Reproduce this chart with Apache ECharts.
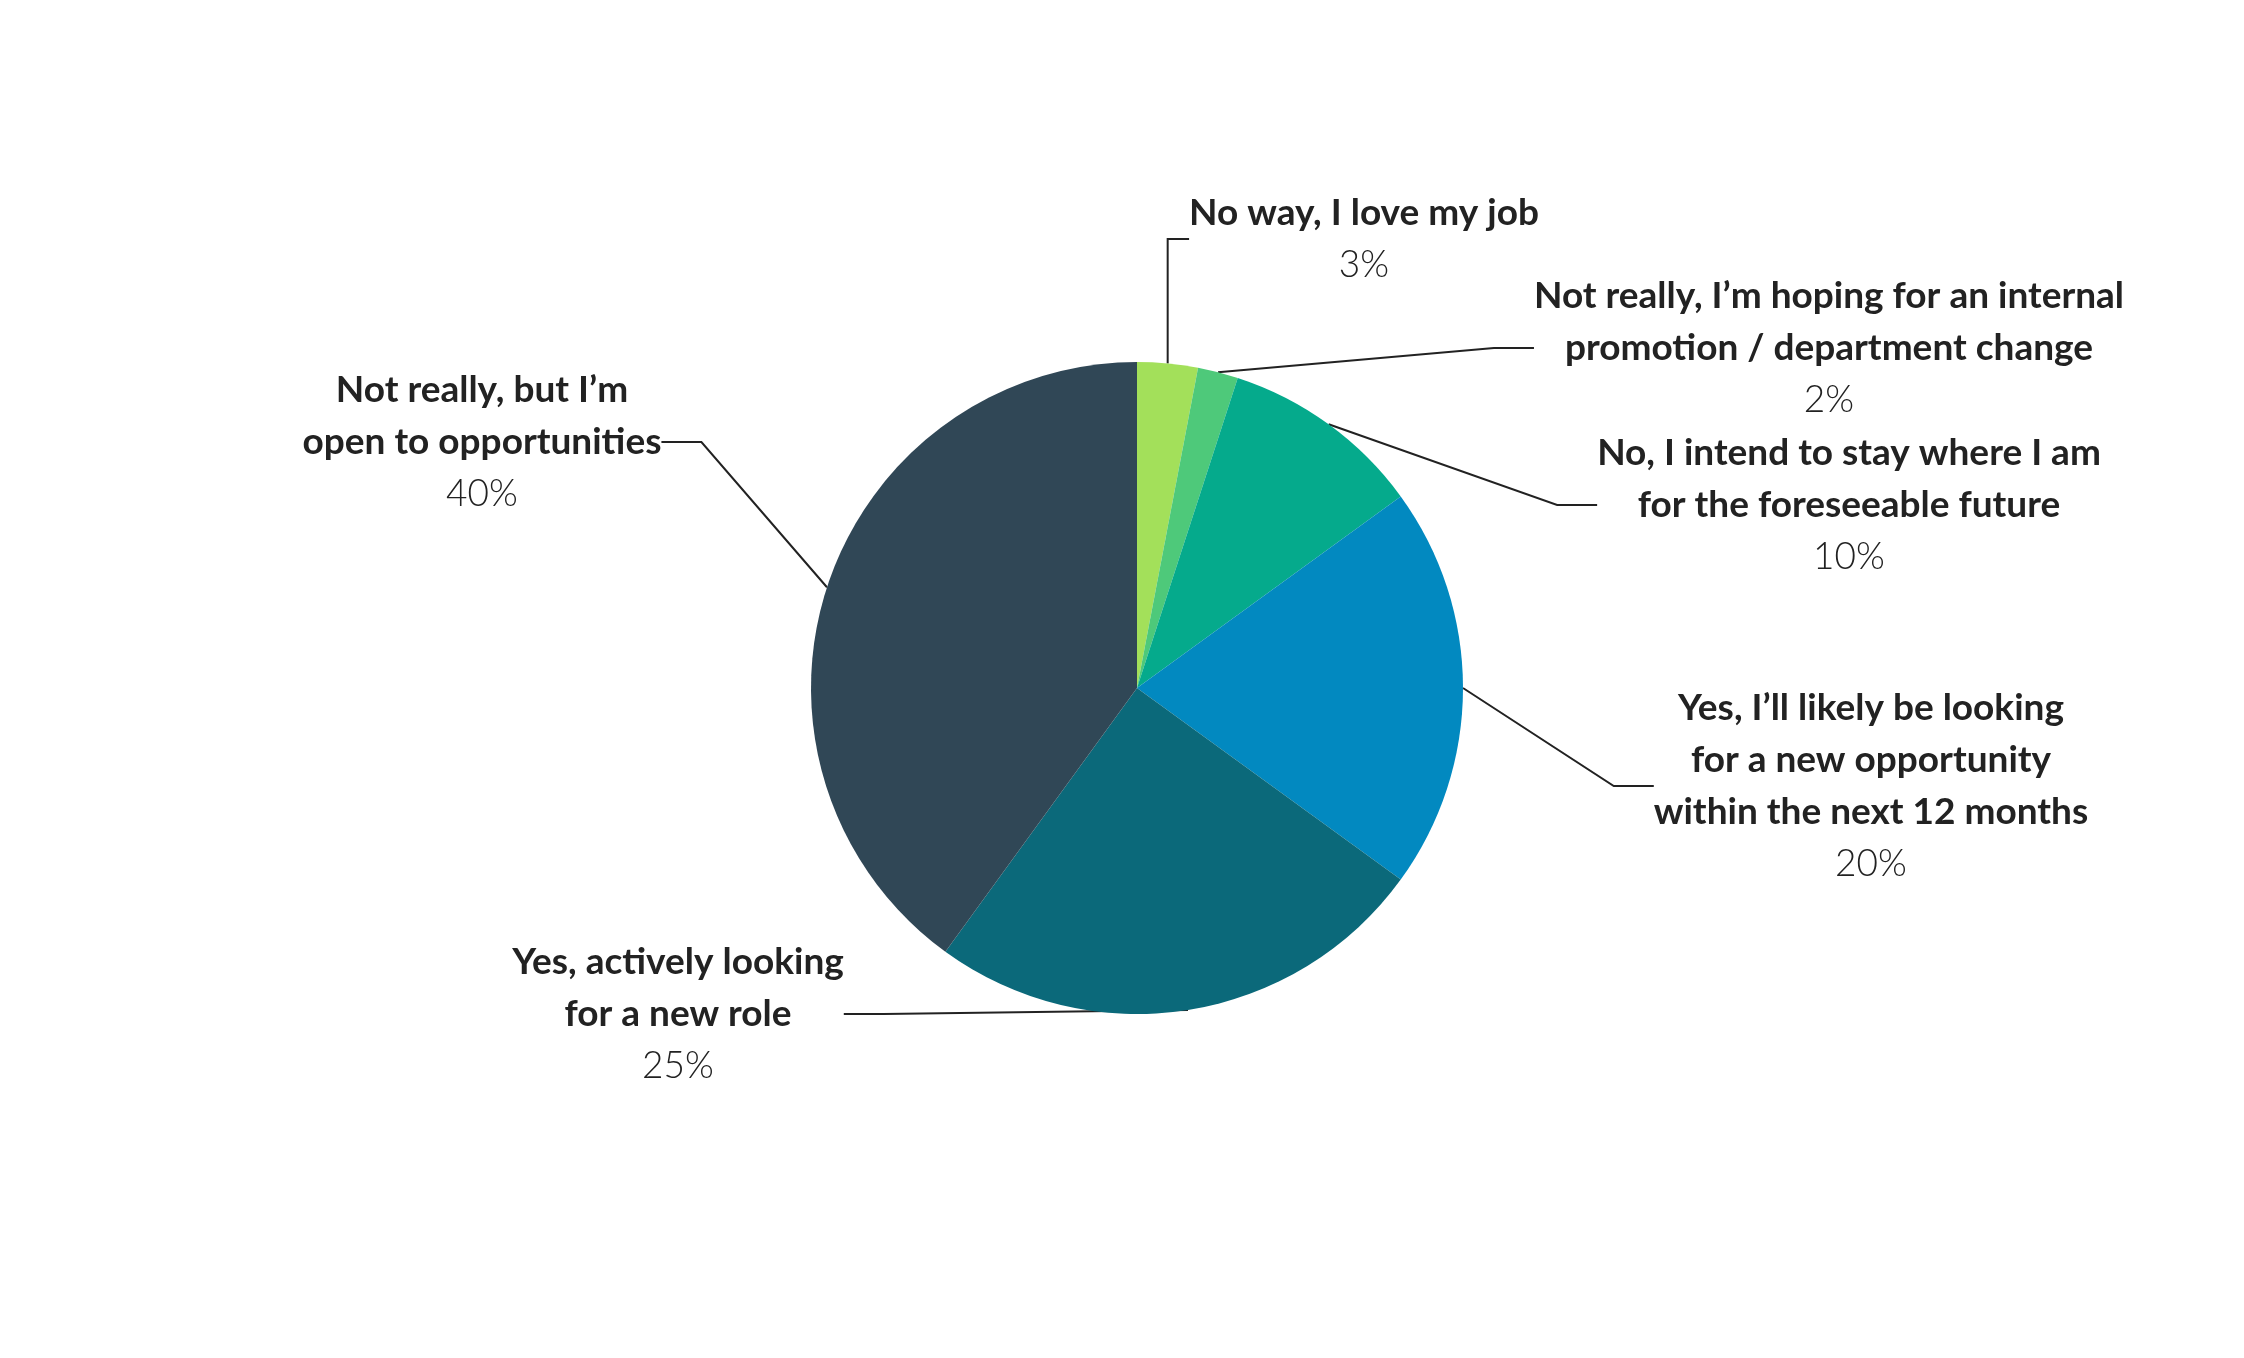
<!DOCTYPE html>
<html>
<head>
<meta charset="utf-8">
<script src="https://cdn.jsdelivr.net/npm/echarts@6/dist/echarts.min.js"></script>
<style>html,body{margin:0;background:#fff}#chart0{width:2244px;height:1358px}</style>
</head>
<body>
<div id="chart0"></div>
<script>
var labels = [
  'No way, I love my job',
  'Not really, I\u2019m hoping for an internal\npromotion / department change',
  'No, I intend to stay where I am\nfor the foreseeable future',
  'Yes, I\u2019ll likely be looking\nfor a new opportunity\nwithin the next 12 months',
  'Yes, actively looking\nfor a new role',
  'Not really, but I\u2019m\nopen to opportunities'
]
var values = [3, 2, 10, 20, 25, 40]
var colors = ['#a3e05a', '#4ec97a', '#05aa8c', '#0289c0', '#0b697a', '#304756']
// where each label sits (px)
var labelPos = [[1364, 239], [1829, 348], [1849, 505], [1871, 786], [678, 1014], [482, 442]]

var chart0 = echarts.init(document.getElementById('chart0'))
chart0.setOption({
  color: colors,
  series: [{
    type: 'pie',
    center: [1137, 688],
    radius: [0, 326],
    startAngle: 90,
    clockwise: true,
    data: labels.map(function (n, i) { return { name: n, value: values[i] } }),
    label: {
      formatter: '{b|{b}}\n{c|{c}%}',
      align: 'center',
      rich: {
        b: { fontFamily: 'Lato', fontWeight: 'bold', fontSize: 37, lineHeight: 52, color: '#222', align: 'center' },
        c: { fontFamily: 'Lato', fontWeight: 300, fontSize: 37, lineHeight: 52, color: '#222', align: 'center' }
      }
    },
    labelLine: { show: true, length: 40, length2: 40, lineStyle: { color: '#222', width: 2 } },
    labelLayout: function (p) {
      var pos = labelPos[p.dataIndex]
      return { x: pos[0], y: pos[1], align: 'center', verticalAlign: 'middle' }
    },
    itemStyle: { borderWidth: 0 },
    emphasis: { disabled: true }
  }]
})
</script>
</body>
</html>
